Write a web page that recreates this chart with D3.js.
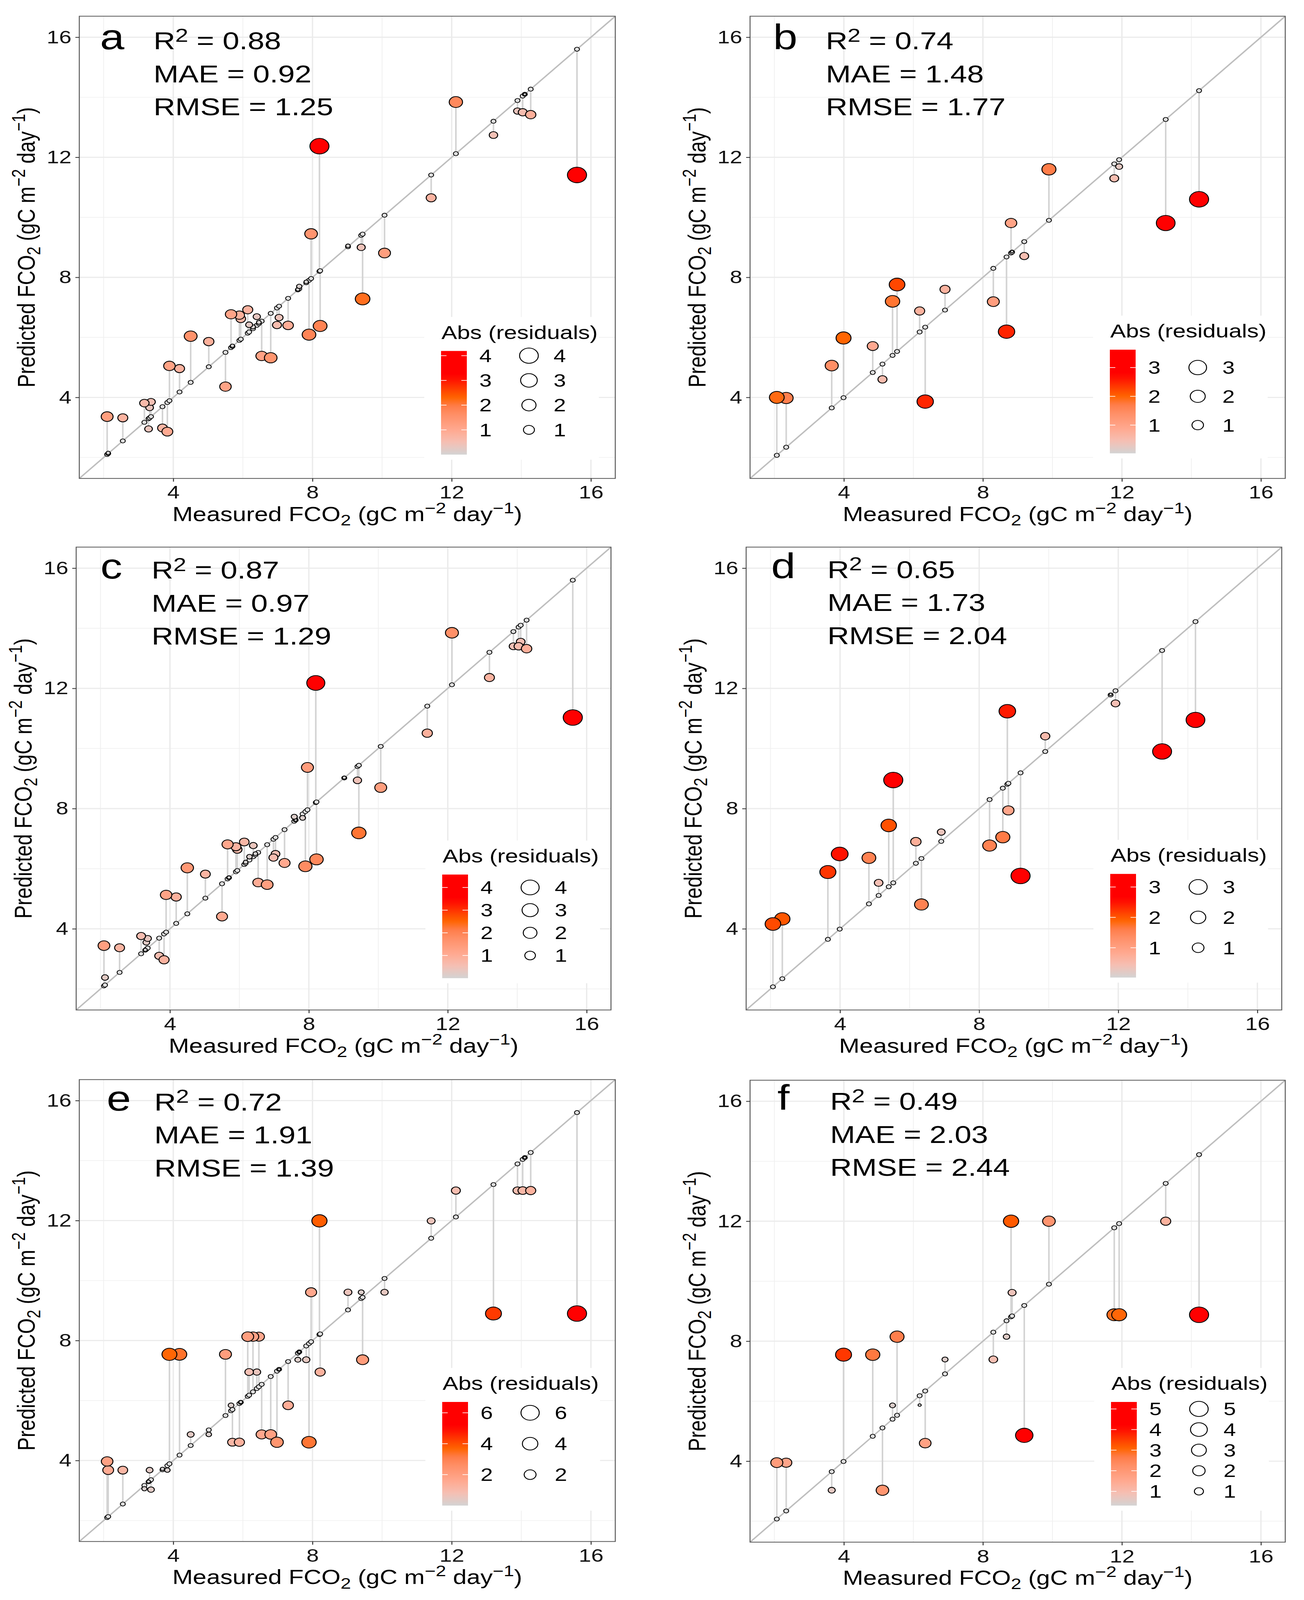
<!DOCTYPE html>
<html>
<head>
<meta charset="utf-8">
<script src="https://cdn.jsdelivr.net/npm/d3@7"></script>
<style>
  html, body { margin: 0; padding: 0; background: #ffffff; overflow: hidden; }
  svg { display: block; font-family: "Liberation Sans", Arial, Helvetica, sans-serif; }
</style>
</head>
<body>
<svg id="chart"></svg>
<script>
// ---------------- DATA ----------------
// Measured values shared by panels a, c, e
const measuredACE = [2.10, 2.13, 2.55, 3.17, 3.29, 3.32, 3.36, 3.69, 3.83, 3.89, 4.18, 4.50, 5.02, 5.50, 5.66, 5.70,
  5.90, 5.94, 6.14, 6.18, 6.29, 6.40, 6.46, 6.54, 6.80, 6.98, 7.04, 7.30, 7.58, 7.62, 7.82, 7.90, 7.96, 8.20, 8.22,
  9.02, 9.40, 9.44, 10.07, 11.41, 12.12, 13.20, 13.89, 14.04, 14.10, 14.27, 15.60];
const predictedA = [3.36, 2.15, 3.32, 3.81, 2.95, 3.66, 3.85, 2.98, 2.86, 5.05, 4.96, 6.04, 5.86, 4.36, 6.77, 5.72,
  6.74, 6.62, 6.92, 6.42, 6.35, 6.69, 6.50, 5.38, 5.32, 6.41, 6.66, 6.40, 7.60, 7.70, 7.85, 6.09, 9.45, 12.37, 6.38,
  9.05, 9.00, 7.28, 8.81, 10.65, 13.84, 12.74, 13.54, 13.50, 14.10, 13.42, 11.41];
const predictedC = [3.44, 2.38, 3.37, 3.76, 3.30, 3.55, 3.68, 3.10, 2.97, 5.13, 5.06, 6.03, 5.82, 4.41, 6.81, 5.71,
  6.73, 6.64, 6.89, 6.22, 6.40, 6.77, 6.50, 5.54, 5.47, 6.37, 6.49, 6.19, 7.73, 7.62, 7.69, 6.08, 9.37, 12.18, 6.31,
  9.03, 8.94, 7.19, 8.70, 10.51, 13.85, 12.36, 13.40, 13.40, 13.55, 13.32, 11.03];
const predictedE = [3.97, 3.68, 3.68, 3.06, 3.30, 3.68, 3.03, 3.72, 3.68, 7.54, 7.54, 4.87, 4.87, 7.54, 5.84, 4.61,
  4.61, 5.95, 8.13, 6.95, 8.13, 6.95, 8.13, 4.87, 4.87, 4.61, 7.04, 5.84, 7.36, 7.62, 7.36, 4.61, 9.61, 11.99, 6.95,
  9.61, 9.61, 7.36, 9.61, 11.99, 13.00, 8.90, 13.00, 13.00, 14.10, 13.00, 8.90];

// Measured values shared by panels b, d, f
const measuredBDF = [2.07, 2.34, 3.65, 3.99, 4.83, 5.11, 5.40, 5.53, 6.18, 6.34, 6.91, 8.30, 8.68, 8.81, 8.84, 9.19,
  9.90, 11.78, 11.92, 13.26, 14.22];
const predictedB = [4.00, 3.98, 5.06, 5.98, 5.71, 4.60, 7.20, 7.76, 6.88, 3.86, 7.60, 7.19, 6.19, 9.81, 8.86, 8.71,
  11.60, 11.30, 11.69, 9.81, 10.60];
const predictedD = [4.16, 4.33, 5.89, 6.49, 6.36, 5.53, 7.44, 8.95, 6.90, 4.81, 7.22, 6.77, 7.05, 11.24, 7.94, 5.76,
  10.41, 11.80, 11.50, 9.90, 10.95];
const predictedF = [3.95, 3.95, 3.03, 7.55, 7.55, 3.03, 5.86, 8.15, 5.87, 4.60, 7.39, 7.39, 8.15, 12.00, 9.62, 4.86,
  12.00, 8.88, 8.88, 12.00, 8.88];

const panelLetters = ["a", "b", "c", "d", "e", "f"];
const r2Labels   = ["0.88", "0.74", "0.87", "0.65", "0.72", "0.49"];
const maeLabels  = ["0.92", "1.48", "0.97", "1.73", "1.91", "2.03"];
const rmseLabels = ["1.25", "1.77", "1.29", "2.04", "1.39", "2.44"];
const axisTicks  = [4, 8, 12, 16];
const minorTicks = [2, 6, 10, 14];
const legendBreaks = [[1, 2, 3, 4], [1, 2, 3], [1, 2, 3, 4], [1, 2, 3], [2, 4, 6], [1, 2, 3, 4, 5]];
const legendTitle = "Abs (residuals)";
const axisDomain = [1.3, 16.7];

const panelMeasured  = [measuredACE, measuredBDF, measuredACE, measuredBDF, measuredACE, measuredBDF];
const panelPredicted = [predictedA, predictedB, predictedC, predictedD, predictedE, predictedF];

// ---------------- LAYOUT / STYLE ----------------
const W = 3338, H = 5033;
const layout = [
  { left: 203,  top: 51,   right: 1575, bottom: 1505, letterDx: 53, statDx: 190, statDy: 104, cbDx: -446, cbDy: -401 },
  { left: 1920, top: 51,   right: 3290, bottom: 1505, letterDx: 59, statDx: 194, statDy: 104, cbDx: -449, cbDy: -405 },
  { left: 195,  top: 1721, right: 1564, bottom: 3177, letterDx: 62, statDx: 193, statDy: 99,  cbDx: -432, cbDy: -426 },
  { left: 1910, top: 1721, right: 3281, bottom: 3177, letterDx: 64, statDx: 208, statDy: 97,  cbDx: -439, cbDy: -428 },
  { left: 203,  top: 3396, right: 1575, bottom: 4849, letterDx: 70, statDx: 192, statDy: 97,  cbDx: -443, cbDy: -439 },
  { left: 1920, top: 3398, right: 3290, bottom: 4851, letterDx: 70, statDx: 205, statDy: 93,  cbDx: -446, cbDy: -441 }
];
const colorStopT = [0, 0.12, 0.23, 0.38, 0.47, 0.55, 0.62, 0.72, 0.78, 1];
const colorStopC = ["#D3D3D3", "#F5BFB3", "#FFAA92", "#FF9068", "#FF7C48", "#FF6400", "#FF4400", "#FF1400", "#FF0000", "#FF0000"];
const tColor = d3.scaleLinear().domain(colorStopT).range(colorStopC).interpolate(d3.interpolateRgb).clamp(true);
const sizeScale = d3.scaleSqrt().domain([0, 1]).range([4.05, 24.45]);

// the drawing is laid out in a 3338 x 5033 frame and fitted to the visible window
const vw = window.innerWidth || W, vh = window.innerHeight || H;
const svg = d3.select("#chart")
  .attr("width", vw).attr("height", vh)
  .attr("viewBox", `0 0 ${W} ${H}`)
  .attr("preserveAspectRatio", "none");
const defs = svg.append("defs");
svg.append("rect").attr("width", W).attr("height", H).attr("fill", "#ffffff");

function addAxisTitle(sel, lead) {
  const big = 63, small = 48;
  sel.append("tspan").text(lead);
  sel.append("tspan").attr("font-size", small).attr("dy", 14).text("2");
  sel.append("tspan").attr("font-size", big).attr("dy", -14).text(" (gC m");
  sel.append("tspan").attr("font-size", small).attr("dy", -25).text("\u22122");
  sel.append("tspan").attr("font-size", big).attr("dy", 25).text(" day");
  sel.append("tspan").attr("font-size", small).attr("dy", -25).text("\u22121");
  sel.append("tspan").attr("font-size", big).attr("dy", 25).text(")");
}

layout.forEach((L, i) => {
  const meas = panelMeasured[i], pred = panelPredicted[i];
  const x = d3.scaleLinear().domain(axisDomain).range([L.left, L.right]);
  const y = d3.scaleLinear().domain(axisDomain).range([L.bottom, L.top]);
  const obs = meas.map((m, j) => ({ m: m, p: pred[j], res: Math.abs(pred[j] - m) }));
  const rmin = d3.min(obs, d => d.res), rmax = d3.max(obs, d => d.res);
  const tScale = d3.scaleLinear().domain([rmin, rmax]).range([0, 1]).clamp(true);
  const colorOf = v => tColor(tScale(v));
  const radiusOf = v => sizeScale(tScale(v));

  const g = svg.append("g");
  const clipId = "clip" + i;
  defs.append("clipPath").attr("id", clipId).append("rect")
    .attr("x", L.left).attr("y", L.top).attr("width", L.right - L.left).attr("height", L.bottom - L.top);

  g.append("rect").attr("x", L.left).attr("y", L.top).attr("width", L.right - L.left).attr("height", L.bottom - L.top)
    .attr("fill", "#ffffff");

  // grid
  const grid = g.append("g");
  minorTicks.forEach(v => {
    grid.append("line").attr("x1", x(v)).attr("x2", x(v)).attr("y1", L.top).attr("y2", L.bottom)
      .attr("stroke", "#F0F0F0").attr("stroke-width", 2);
    grid.append("line").attr("y1", y(v)).attr("y2", y(v)).attr("x1", L.left).attr("x2", L.right)
      .attr("stroke", "#F0F0F0").attr("stroke-width", 2);
  });
  axisTicks.forEach(v => {
    grid.append("line").attr("x1", x(v)).attr("x2", x(v)).attr("y1", L.top).attr("y2", L.bottom)
      .attr("stroke", "#EBEBEB").attr("stroke-width", 3.5);
    grid.append("line").attr("y1", y(v)).attr("y2", y(v)).attr("x1", L.left).attr("x2", L.right)
      .attr("stroke", "#EBEBEB").attr("stroke-width", 3.5);
  });

  // 1:1 line
  g.append("line").attr("clip-path", `url(#${clipId})`)
    .attr("x1", x(axisDomain[0])).attr("y1", y(axisDomain[0]))
    .attr("x2", x(axisDomain[1])).attr("y2", y(axisDomain[1]))
    .attr("stroke", "#BEBEBE").attr("stroke-width", 4);

  // residual segments
  g.append("g").selectAll("line").data(obs).join("line")
    .attr("x1", d => x(d.m)).attr("x2", d => x(d.m))
    .attr("y1", d => y(d.m)).attr("y2", d => y(d.p))
    .attr("stroke", "#D3D3D3").attr("stroke-width", 4);

  // measured points on the 1:1 line
  g.append("g").selectAll("circle").data(obs).join("circle")
    .attr("cx", d => x(d.m)).attr("cy", d => y(d.m)).attr("r", 6.4)
    .attr("fill", "#DEDEDE").attr("stroke", "#000").attr("stroke-width", 2.2);

  // predicted points
  const sorted = obs.slice().sort((a, b) => a.res - b.res);
  g.append("g").selectAll("circle").data(sorted).join("circle")
    .attr("cx", d => x(d.m)).attr("cy", d => y(d.p)).attr("r", d => radiusOf(d.res))
    .attr("fill", d => colorOf(d.res)).attr("stroke", "#000").attr("stroke-width", 2.5);

  // border
  g.append("rect").attr("x", L.left).attr("y", L.top).attr("width", L.right - L.left).attr("height", L.bottom - L.top)
    .attr("fill", "none").attr("stroke", "#595959").attr("stroke-width", 2.5);

  // axes
  const xAxis = g.append("g").attr("transform", `translate(0,${L.bottom})`)
    .call(d3.axisBottom(x).tickValues(axisTicks).tickSize(10).tickPadding(13).tickFormat(d3.format("d")));
  const yAxis = g.append("g").attr("transform", `translate(${L.left},0)`)
    .call(d3.axisLeft(y).tickValues(axisTicks).tickSize(10).tickPadding(10).tickFormat(d3.format("d")));
  [xAxis, yAxis].forEach(ax => {
    ax.select(".domain").remove();
    ax.selectAll(".tick line").attr("stroke", "#333333").attr("stroke-width", 2.5);
    ax.selectAll(".tick text").attr("font-size", 57).attr("fill", "#111111")
      .attr("font-family", '"Liberation Sans", Arial, sans-serif');
  });

  // axis titles
  const xt = g.append("text").attr("x", (L.left + L.right) / 2).attr("y", L.bottom + 134)
    .attr("text-anchor", "middle").attr("font-size", 63).attr("fill", "#000");
  addAxisTitle(xt, "Measured FCO");
  const yt = g.append("text")
    .attr("transform", `translate(${L.left - 114},${(L.top + L.bottom) / 2}) rotate(-90)`)
    .attr("text-anchor", "middle").attr("font-size", 63).attr("fill", "#000");
  addAxisTitle(yt, "Predicted FCO");

  // panel letter and statistics
  g.append("text").attr("x", L.left + L.letterDx).attr("y", L.top + L.statDy)
    .attr("font-size", 112).attr("fill", "#000").text(panelLetters[i]);
  const sx = L.left + L.statDx;
  const r2 = g.append("text").attr("x", sx).attr("y", L.top + L.statDy).attr("font-size", 77).attr("fill", "#000");
  r2.append("tspan").text("R");
  r2.append("tspan").attr("font-size", 60).attr("dy", -24).text("2");
  r2.append("tspan").attr("font-size", 77).attr("dy", 24).text(" = " + r2Labels[i]);
  g.append("text").attr("x", sx).attr("y", L.top + L.statDy + 104).attr("font-size", 77).attr("fill", "#000")
    .text("MAE = " + maeLabels[i]);
  g.append("text").attr("x", sx).attr("y", L.top + L.statDy + 208).attr("font-size", 77).attr("fill", "#000")
    .text("RMSE = " + rmseLabels[i]);

  // legend
  const cbW = 66, cbH = 326;
  const cbLeft = L.right + L.cbDx, cbTop = L.bottom + L.cbDy;
  const lg = g.append("g");
  lg.append("rect").attr("x", cbLeft - 43).attr("y", cbTop - 107).attr("width", 447).attr("height", 107 + cbH + 16)
    .attr("fill", "#ffffff");
  lg.append("text").attr("x", cbLeft + 1).attr("y", cbTop - 38).attr("font-size", 60).attr("fill", "#000")
    .text(legendTitle);
  const gradId = "grad" + i;
  const grad = defs.append("linearGradient").attr("id", gradId)
    .attr("x1", 0).attr("y1", 1).attr("x2", 0).attr("y2", 0);
  d3.range(0, 1.0001, 0.02).forEach(t => {
    grad.append("stop").attr("offset", t).attr("stop-color", tColor(t));
  });
  lg.append("rect").attr("x", cbLeft).attr("y", cbTop).attr("width", cbW).attr("height", cbH)
    .attr("fill", `url(#${gradId})`);
  const cbScale = d3.scaleLinear().domain([rmin, rmax]).range([cbTop + cbH, cbTop]);
  legendBreaks[i].forEach(b => {
    const yy = cbScale(b);
    lg.append("line").attr("x1", cbLeft).attr("x2", cbLeft + 14).attr("y1", yy).attr("y2", yy)
      .attr("stroke", "#ffffff").attr("stroke-width", 2);
    lg.append("line").attr("x1", cbLeft + cbW - 14).attr("x2", cbLeft + cbW).attr("y1", yy).attr("y2", yy)
      .attr("stroke", "#ffffff").attr("stroke-width", 2);
    lg.append("text").attr("x", cbLeft + 98).attr("y", yy + 20).attr("font-size", 57).attr("fill", "#000").text(b);
    lg.append("circle").attr("cx", cbLeft + 225).attr("cy", yy).attr("r", radiusOf(b))
      .attr("fill", "#ffffff").attr("stroke", "#000").attr("stroke-width", 2.5);
    lg.append("text").attr("x", cbLeft + 288).attr("y", yy + 20).attr("font-size", 57).attr("fill", "#000").text(b);
  });
});
</script>
</body>
</html>
